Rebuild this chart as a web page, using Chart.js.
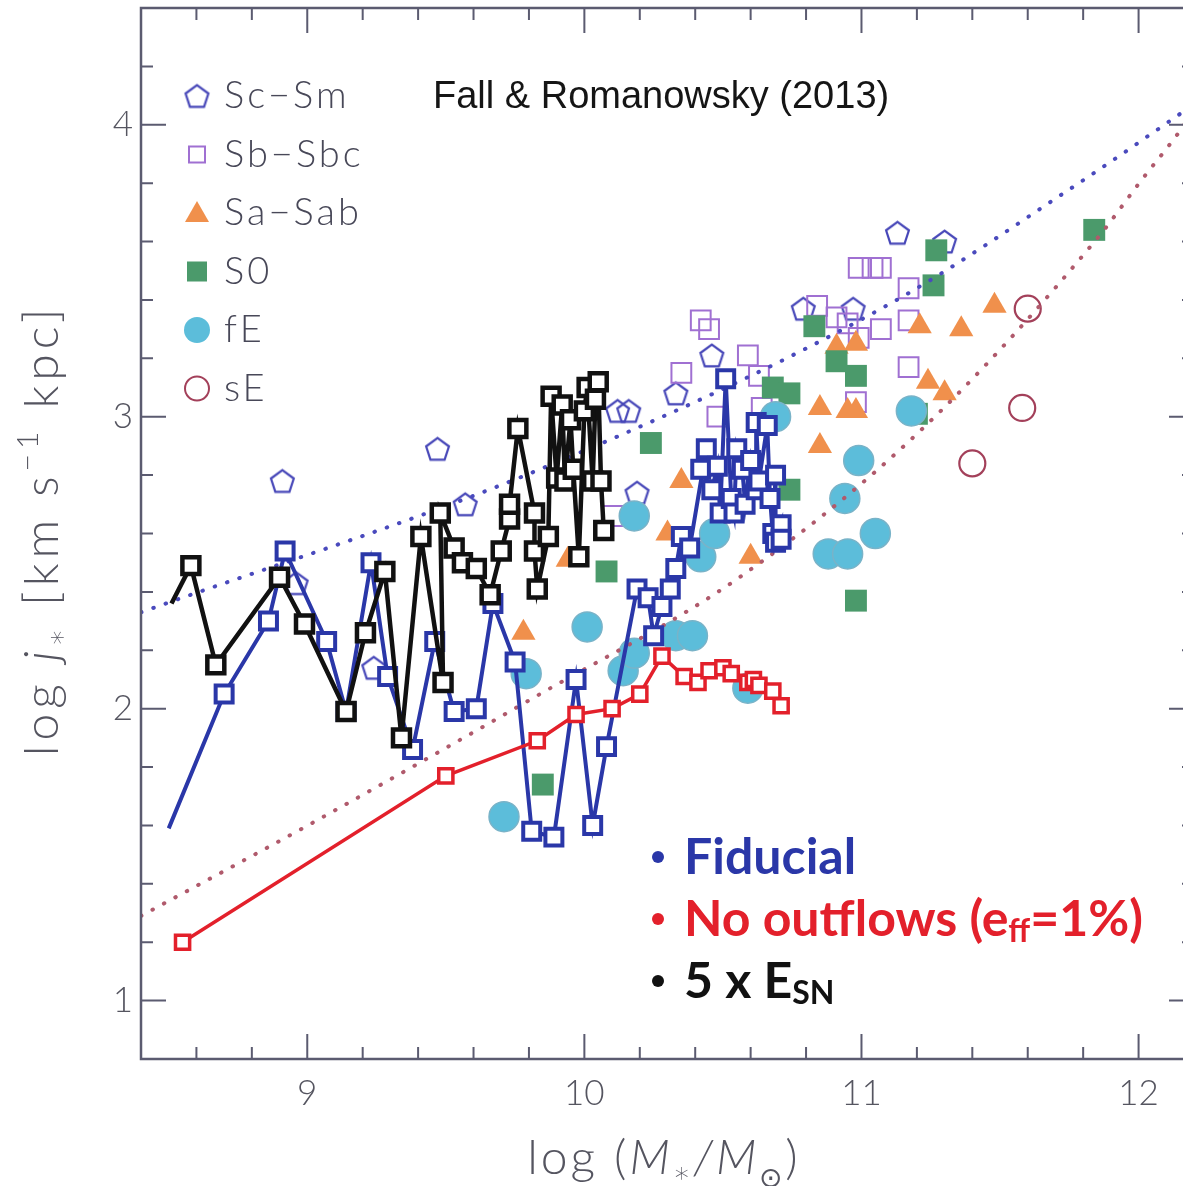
<!DOCTYPE html>
<html>
<head>
<meta charset="utf-8">
<script src="https://cdn.jsdelivr.net/npm/chart.js@4.4.0/dist/chart.umd.min.js"></script>
<style>
  html, body { margin: 0; padding: 0; background: #fff; overflow: hidden; }
  #wrap { width: 1220px; height: 1186px; }
</style>
</head>
<body>
<div id="wrap"><canvas id="jmChart" width="1220" height="1186"></canvas></div>
<script>
// Observed galaxies (Fall & Romanowsky 2013): log M* and log j*
const scSmM = [8.91, 8.96, 9.24, 9.47, 9.57, 10.12, 10.16, 10.19, 10.33, 10.46, 10.79, 10.97, 11.13, 11.30];
const scSmJ = [2.78, 2.43, 2.14, 2.89, 2.70, 3.02, 3.02, 2.74, 3.08, 3.21, 3.37, 3.37, 3.63, 3.60];

const sbSbcM = [10.10, 10.35, 10.42, 10.45, 10.59, 10.63, 10.48, 10.64, 10.84, 10.91, 10.95, 10.99, 11.07, 10.99, 11.04, 11.07, 11.17, 11.17, 11.17, 10.98];
const sbSbcJ = [2.66, 3.15, 3.33, 3.30, 3.21, 3.14, 3.00, 3.03, 3.38, 3.34, 3.32, 3.27, 3.30, 3.51, 3.51, 3.51, 3.44, 3.33, 3.17, 3.05];

const saSabM = [9.78, 9.94, 10.35, 10.30, 10.60, 10.85, 10.85, 10.91, 10.98, 10.95, 10.98, 11.21, 11.36, 11.48, 11.24, 11.30];
const saSabJ = [2.26, 2.51, 2.78, 2.60, 2.52, 3.03, 2.90, 3.24, 3.25, 3.02, 3.02, 3.31, 3.30, 3.38, 3.12, 3.08];

const s0M = [9.85, 10.08, 10.24, 10.68, 10.74, 10.74, 10.83, 10.91, 10.98, 10.98, 11.20, 11.26, 11.27, 11.84];
const s0J = [1.74, 2.47, 2.91, 3.10, 3.08, 2.75, 3.31, 3.19, 3.14, 2.37, 3.01, 3.45, 3.57, 3.64];

const fEM = [9.71, 9.79, 10.01, 10.14, 10.18, 10.18, 10.33, 10.39, 10.42, 10.47, 10.59, 10.69, 10.88, 10.94, 10.95, 10.99, 11.05, 11.18];
const fEJ = [1.63, 2.12, 2.28, 2.13, 2.19, 2.66, 2.25, 2.25, 2.52, 2.60, 2.07, 3.00, 2.53, 2.72, 2.53, 2.85, 2.60, 3.02];

const sEM = [11.40, 11.58, 11.60];
const sEJ = [2.84, 3.03, 3.37];

// Fitted relations (dotted curves)
const diskFitM = [8.40, 9.84, 11.09, 11.80, 12.20];
const diskFitJ = [2.33, 2.82, 3.38, 3.81, 4.07];
const bulgeFitM = [8.40, 9.04, 9.84, 10.56, 11.21, 11.85, 12.01, 12.15, 12.20];
const bulgeFitJ = [1.29, 1.62, 2.05, 2.45, 2.95, 3.61, 3.81, 3.98, 4.05];

// Simulation tracks
const fidM = [8.50, 8.70, 8.86, 8.92, 9.07, 9.14, 9.23, 9.29, 9.38, 9.46, 9.53, 9.61, 9.67, 9.75, 9.81, 9.89, 9.97, 10.03, 10.08, 10.19, 10.23, 10.25, 10.28, 10.31, 10.33, 10.35, 10.38, 10.44, 10.42, 10.46, 10.48, 10.49, 10.51, 10.53, 10.54, 10.55, 10.57, 10.58, 10.60, 10.62, 10.62, 10.63, 10.66, 10.67, 10.68, 10.69, 10.69, 10.71, 10.71];
const fidJ = [1.59, 2.05, 2.30, 2.54, 2.23, 1.99, 2.50, 2.11, 1.86, 2.23, 1.99, 2.00, 2.36, 2.16, 1.58, 1.56, 2.10, 1.60, 1.87, 2.41, 2.38, 2.25, 2.35, 2.41, 2.48, 2.59, 2.55, 2.89, 2.82, 2.75, 2.83, 2.67, 3.13, 2.72, 2.67, 2.89, 2.82, 2.70, 2.85, 2.75, 2.98, 2.78, 2.97, 2.72, 2.60, 2.80, 2.57, 2.63, 2.58];

const esnM = [8.51, 8.58, 8.67, 8.90, 8.99, 9.14, 9.21, 9.28, 9.34, 9.41, 9.49, 9.48, 9.53, 9.56, 9.61, 9.66, 9.70, 9.73, 9.73, 9.76, 9.82, 9.82, 9.83, 9.87, 9.88, 9.90, 9.92, 9.93, 9.95, 9.96, 9.98, 10.00, 10.01, 10.03, 10.04, 10.05, 10.06, 10.07];
const esnJ = [2.36, 2.49, 2.15, 2.45, 2.29, 1.99, 2.26, 2.47, 1.90, 2.59, 2.09, 2.67, 2.55, 2.50, 2.48, 2.39, 2.54, 2.65, 2.70, 2.96, 2.67, 2.54, 2.41, 2.59, 3.07, 2.79, 3.04, 2.78, 2.99, 2.82, 2.52, 3.02, 3.10, 2.78, 3.06, 3.12, 2.78, 2.61];

const noOutM = [8.55, 9.50, 9.83, 9.97, 10.10, 10.20, 10.28, 10.36, 10.41, 10.45, 10.50, 10.53, 10.59, 10.61, 10.63, 10.68, 10.71];
const noOutJ = [1.20, 1.77, 1.89, 1.98, 2.00, 2.05, 2.18, 2.11, 2.09, 2.13, 2.14, 2.12, 2.09, 2.10, 2.08, 2.06, 2.01];

const axisColor = '#5b5b70';
const labelColor = '#555560';
const fiducialBlue = '#2a37a8';
const noOutRed = '#e3202b';

function pairs(xs, ys) {
  return xs.map((v, i) => ({ x: v, y: ys[i] }));
}

// Pentagon marker as a small canvas (Chart.js has no pentagon point style)
function makePentagon(r, color, lw) {
  const s = Math.ceil(2 * r + lw + 4);
  const c = document.createElement('canvas');
  c.width = s; c.height = s;
  const g = c.getContext('2d');
  g.strokeStyle = color;
  g.lineWidth = lw;
  g.beginPath();
  for (let i = 0; i < 5; i++) {
    const a = -Math.PI / 2 + i * 2 * Math.PI / 5;
    const px = s / 2 + r * Math.cos(a), py = s / 2 + r * Math.sin(a) + r * 0.1;
    if (i === 0) g.moveTo(px, py); else g.lineTo(px, py);
  }
  g.closePath();
  g.stroke();
  return c;
}
const pentagon = makePentagon(12, '#4646b8', 2.2);

// Draw a run of text pieces with different fonts / offsets
function drawRich(ctx, parts, x, y, align, spacing) {
  ctx.letterSpacing = (spacing || 0) + 'px';
  let total = 0;
  parts.forEach(p => { ctx.font = p.f; p.w = ctx.measureText(p.t).width; total += p.w; });
  let cx = align === 'center' ? x - total / 2 : x;
  parts.forEach(p => {
    ctx.font = p.f;
    ctx.fillStyle = p.c || ctx.fillStyle;
    ctx.fillText(p.t, cx, y + (p.dy || 0));
    cx += p.w;
  });
  ctx.letterSpacing = '0px';
}

const decorations = {
  id: 'decorations',
  afterDraw(chart) {
    const { ctx, chartArea: a, scales: { x, y } } = chart;
    ctx.save();

    // frame with inward ticks
    ctx.strokeStyle = axisColor;
    ctx.lineWidth = 2.5;
    ctx.strokeRect(a.left, a.top, a.right - a.left, a.bottom - a.top);
    ctx.lineWidth = 2;
    ctx.beginPath();
    for (let i = 0; i <= 19; i++) {
      const v = 8.4 + i * 0.2;
      const major = Math.abs(v - Math.round(v)) < 1e-6;
      const len = major ? 25 : 12;
      const px = x.getPixelForValue(v);
      ctx.moveTo(px, a.bottom); ctx.lineTo(px, a.bottom - len);
      ctx.moveTo(px, a.top); ctx.lineTo(px, a.top + len);
    }
    for (let i = 0; i <= 18; i++) {
      const v = 0.8 + i * 0.2;
      const major = Math.abs(v - Math.round(v)) < 1e-6;
      const len = major ? 25 : 12;
      const py = y.getPixelForValue(v);
      ctx.moveTo(a.left, py); ctx.lineTo(a.left + len, py);
      ctx.moveTo(a.right, py); ctx.lineTo(a.right - len, py);
    }
    ctx.stroke();

    // axis titles
    ctx.fillStyle = labelColor;
    ctx.textBaseline = 'alphabetic';
    const reg = '300 48px Lato', it = 'italic 300 48px Lato', sm = '300 28px "DejaVu Sans"';
    drawRich(ctx, [
      { t: 'log (', f: reg },
      { t: 'M', f: it },
      { t: '∗', f: sm, dy: 8 },
      { t: '/', f: it },
      { t: 'M', f: it },
      { t: '⊙', f: sm, dy: 13 },
      { t: ')', f: reg }
    ], 664, 1174, 'center', 3);

    ctx.save();
    ctx.translate(58, 530);
    ctx.rotate(-Math.PI / 2);
    drawRich(ctx, [
      { t: 'log ', f: reg },
      { t: 'j', f: it },
      { t: '∗', f: sm, dy: 8 },
      { t: ' [km s', f: reg },
      { t: '−1', f: '300 30px Lato', dy: -20 },
      { t: ' kpc]', f: reg }
    ], 0, 0, 'center', 5);
    ctx.restore();

    // source label
    ctx.fillStyle = '#151515';
    ctx.font = '38px "Liberation Sans"';
    ctx.fillText('Fall & Romanowsky (2013)', 433, 108);

    // legend of observed samples
    const rows = [
      { label: 'Sc−Sm', kind: 'pent' },
      { label: 'Sb−Sbc', kind: 'sq', color: '#a070d2' },
      { label: 'Sa−Sab', kind: 'tri', color: '#f0904c' },
      { label: 'S0', kind: 'fsq', color: '#4b9a6b' },
      { label: 'fE', kind: 'dot', color: '#5cbdda' },
      { label: 'sE', kind: 'ring', color: '#a3405a' }
    ];
    const lx = 197;
    rows.forEach((r, i) => {
      const ly = 96 + i * 58.5;
      ctx.lineWidth = 2;
      if (r.kind === 'pent') {
        ctx.drawImage(pentagon, lx - pentagon.width / 2, ly - pentagon.height / 2);
      } else if (r.kind === 'sq') {
        ctx.strokeStyle = r.color;
        ctx.strokeRect(lx - 8, ly - 8, 16, 16);
      } else if (r.kind === 'tri') {
        ctx.fillStyle = r.color;
        ctx.beginPath();
        ctx.moveTo(lx, ly - 12); ctx.lineTo(lx + 12, ly + 9); ctx.lineTo(lx - 12, ly + 9);
        ctx.closePath(); ctx.fill();
      } else if (r.kind === 'fsq') {
        ctx.fillStyle = r.color;
        ctx.fillRect(lx - 10, ly - 10, 20, 20);
      } else if (r.kind === 'dot') {
        ctx.fillStyle = r.color;
        ctx.beginPath(); ctx.arc(lx, ly, 13, 0, Math.PI * 2); ctx.fill();
      } else {
        ctx.strokeStyle = r.color;
        ctx.beginPath(); ctx.arc(lx, ly, 12, 0, Math.PI * 2); ctx.stroke();
      }
      ctx.fillStyle = '#484858';
      ctx.font = '300 38px Lato';
      ctx.letterSpacing = '3px';
      ctx.textBaseline = 'middle';
      ctx.fillText(r.label, 224, ly);
      ctx.textBaseline = 'alphabetic';
      ctx.letterSpacing = '0px';
    });

    // model annotations
    const big = 'bold 50px Lato', sub = 'bold 32px Lato';
    const notes = [
      { c: fiducialBlue, y: 874, parts: [{ t: 'Fiducial', f: big }] },
      { c: noOutRed, y: 936, parts: [{ t: 'No outflows (e', f: big }, { t: 'ff', f: sub, dy: 6 }, { t: '=1%)', f: big }] },
      { c: '#111111', y: 998, parts: [{ t: '5 x E', f: big }, { t: 'SN', f: sub, dy: 6 }] }
    ];
    notes.forEach(n => {
      ctx.fillStyle = n.c;
      ctx.beginPath(); ctx.arc(658, n.y - 17, 6, 0, Math.PI * 2); ctx.fill();
      n.parts.forEach(p => { p.c = n.c; });
      drawRich(ctx, n.parts, 684, n.y, 'left', 0);
    });

    ctx.restore();
  }
};

const squareTrack = (color, width, r) => ({
  showLine: true,
  borderColor: color,
  borderWidth: width,
  pointStyle: 'rect',
  pointBorderColor: color,
  pointBackgroundColor: '#ffffff',
  pointBorderWidth: width,
  pointRadius: r
});

const ctx = document.getElementById('jmChart').getContext('2d');
const chart = new Chart(ctx, {
  type: 'scatter',
  data: {
    datasets: [
      Object.assign({ label: 'No outflows', data: pairs(noOutM, noOutJ), order: 0 }, squareTrack(noOutRed, 3.5, 10)),
      Object.assign({ label: '5 x ESN', data: pairs(esnM, esnJ), order: 1 }, squareTrack('#111111', 4.5, 12),
        { pointRadius: c => (c.dataIndex === 0 ? 0 : 12) }),
      Object.assign({ label: 'Fiducial', data: pairs(fidM, fidJ), order: 2 }, squareTrack(fiducialBlue, 4, 12),
        { pointRadius: c => (c.dataIndex === 0 ? 0 : 12) }),
      {
        label: 'disk fit', data: pairs(diskFitM, diskFitJ), order: 3, showLine: true, pointRadius: 0,
        borderColor: '#4a4abd', borderWidth: 4, borderDash: [0.5, 12.5], borderCapStyle: 'round',
        cubicInterpolationMode: 'monotone'
      },
      {
        label: 'bulge fit', data: pairs(bulgeFitM, bulgeFitJ), order: 3, showLine: true, pointRadius: 0,
        borderColor: '#b05a6c', borderWidth: 4, borderDash: [0.5, 12.5], borderCapStyle: 'round',
        cubicInterpolationMode: 'monotone'
      },
      {
        label: 'sE', data: pairs(sEM, sEJ), order: 4, pointStyle: 'circle', pointRadius: 13,
        pointBorderColor: '#a3405a', pointBackgroundColor: 'rgba(255,255,255,0)', pointBorderWidth: 2.2
      },
      {
        label: 'fE', data: pairs(fEM, fEJ), order: 5, pointStyle: 'circle', pointRadius: 15,
        pointBorderColor: '#79b3c8', pointBackgroundColor: '#5cbdda', pointBorderWidth: 1.5
      },
      {
        label: 'S0', data: pairs(s0M, s0J), order: 6, pointStyle: 'rect', pointRadius: 15.5,
        pointBorderColor: '#4b9a6b', pointBackgroundColor: '#4b9a6b', pointBorderWidth: 0
      },
      {
        label: 'Sa-Sab', data: pairs(saSabM, saSabJ), order: 7, pointStyle: 'triangle', pointRadius: 14,
        pointBorderColor: '#f0904c', pointBackgroundColor: '#f0904c', pointBorderWidth: 0
      },
      {
        label: 'Sb-Sbc', data: pairs(sbSbcM, sbSbcJ), order: 8, pointStyle: 'rect', pointRadius: 14,
        pointBorderColor: '#a070d2', pointBackgroundColor: 'rgba(255,255,255,0)', pointBorderWidth: 2
      },
      {
        label: 'Sc-Sm', data: pairs(scSmM, scSmJ), order: 9, pointStyle: pentagon, pointRadius: 12
      }
    ]
  },
  options: {
    responsive: false,
    animation: false,
    devicePixelRatio: 1,
    layout: { autoPadding: false, padding: { top: 8, right: 26, left: 0, bottom: 0 } },
    plugins: { legend: { display: false }, tooltip: { enabled: false } },
    scales: {
      x: {
        type: 'linear', min: 8.4, max: 12.2,
        grid: { display: false, drawTicks: false }, border: { display: false },
        ticks: { stepSize: 1, includeBounds: false, padding: 14, color: labelColor, font: { family: 'Lato', size: 35, weight: '300' } },
        afterFit: s => { s.height = 127; s.paddingLeft = 0; s.paddingRight = 0; }
      },
      y: {
        type: 'linear', min: 0.8, max: 4.4,
        grid: { display: false, drawTicks: false }, border: { display: false },
        ticks: { stepSize: 1, includeBounds: false, padding: 8, color: labelColor, font: { family: 'Lato', size: 35, weight: '300' } },
        afterFit: s => { s.width = 141; s.paddingTop = 0; s.paddingBottom = 0; }
      }
    }
  },
  plugins: [decorations]
});
</script>
</body>
</html>
